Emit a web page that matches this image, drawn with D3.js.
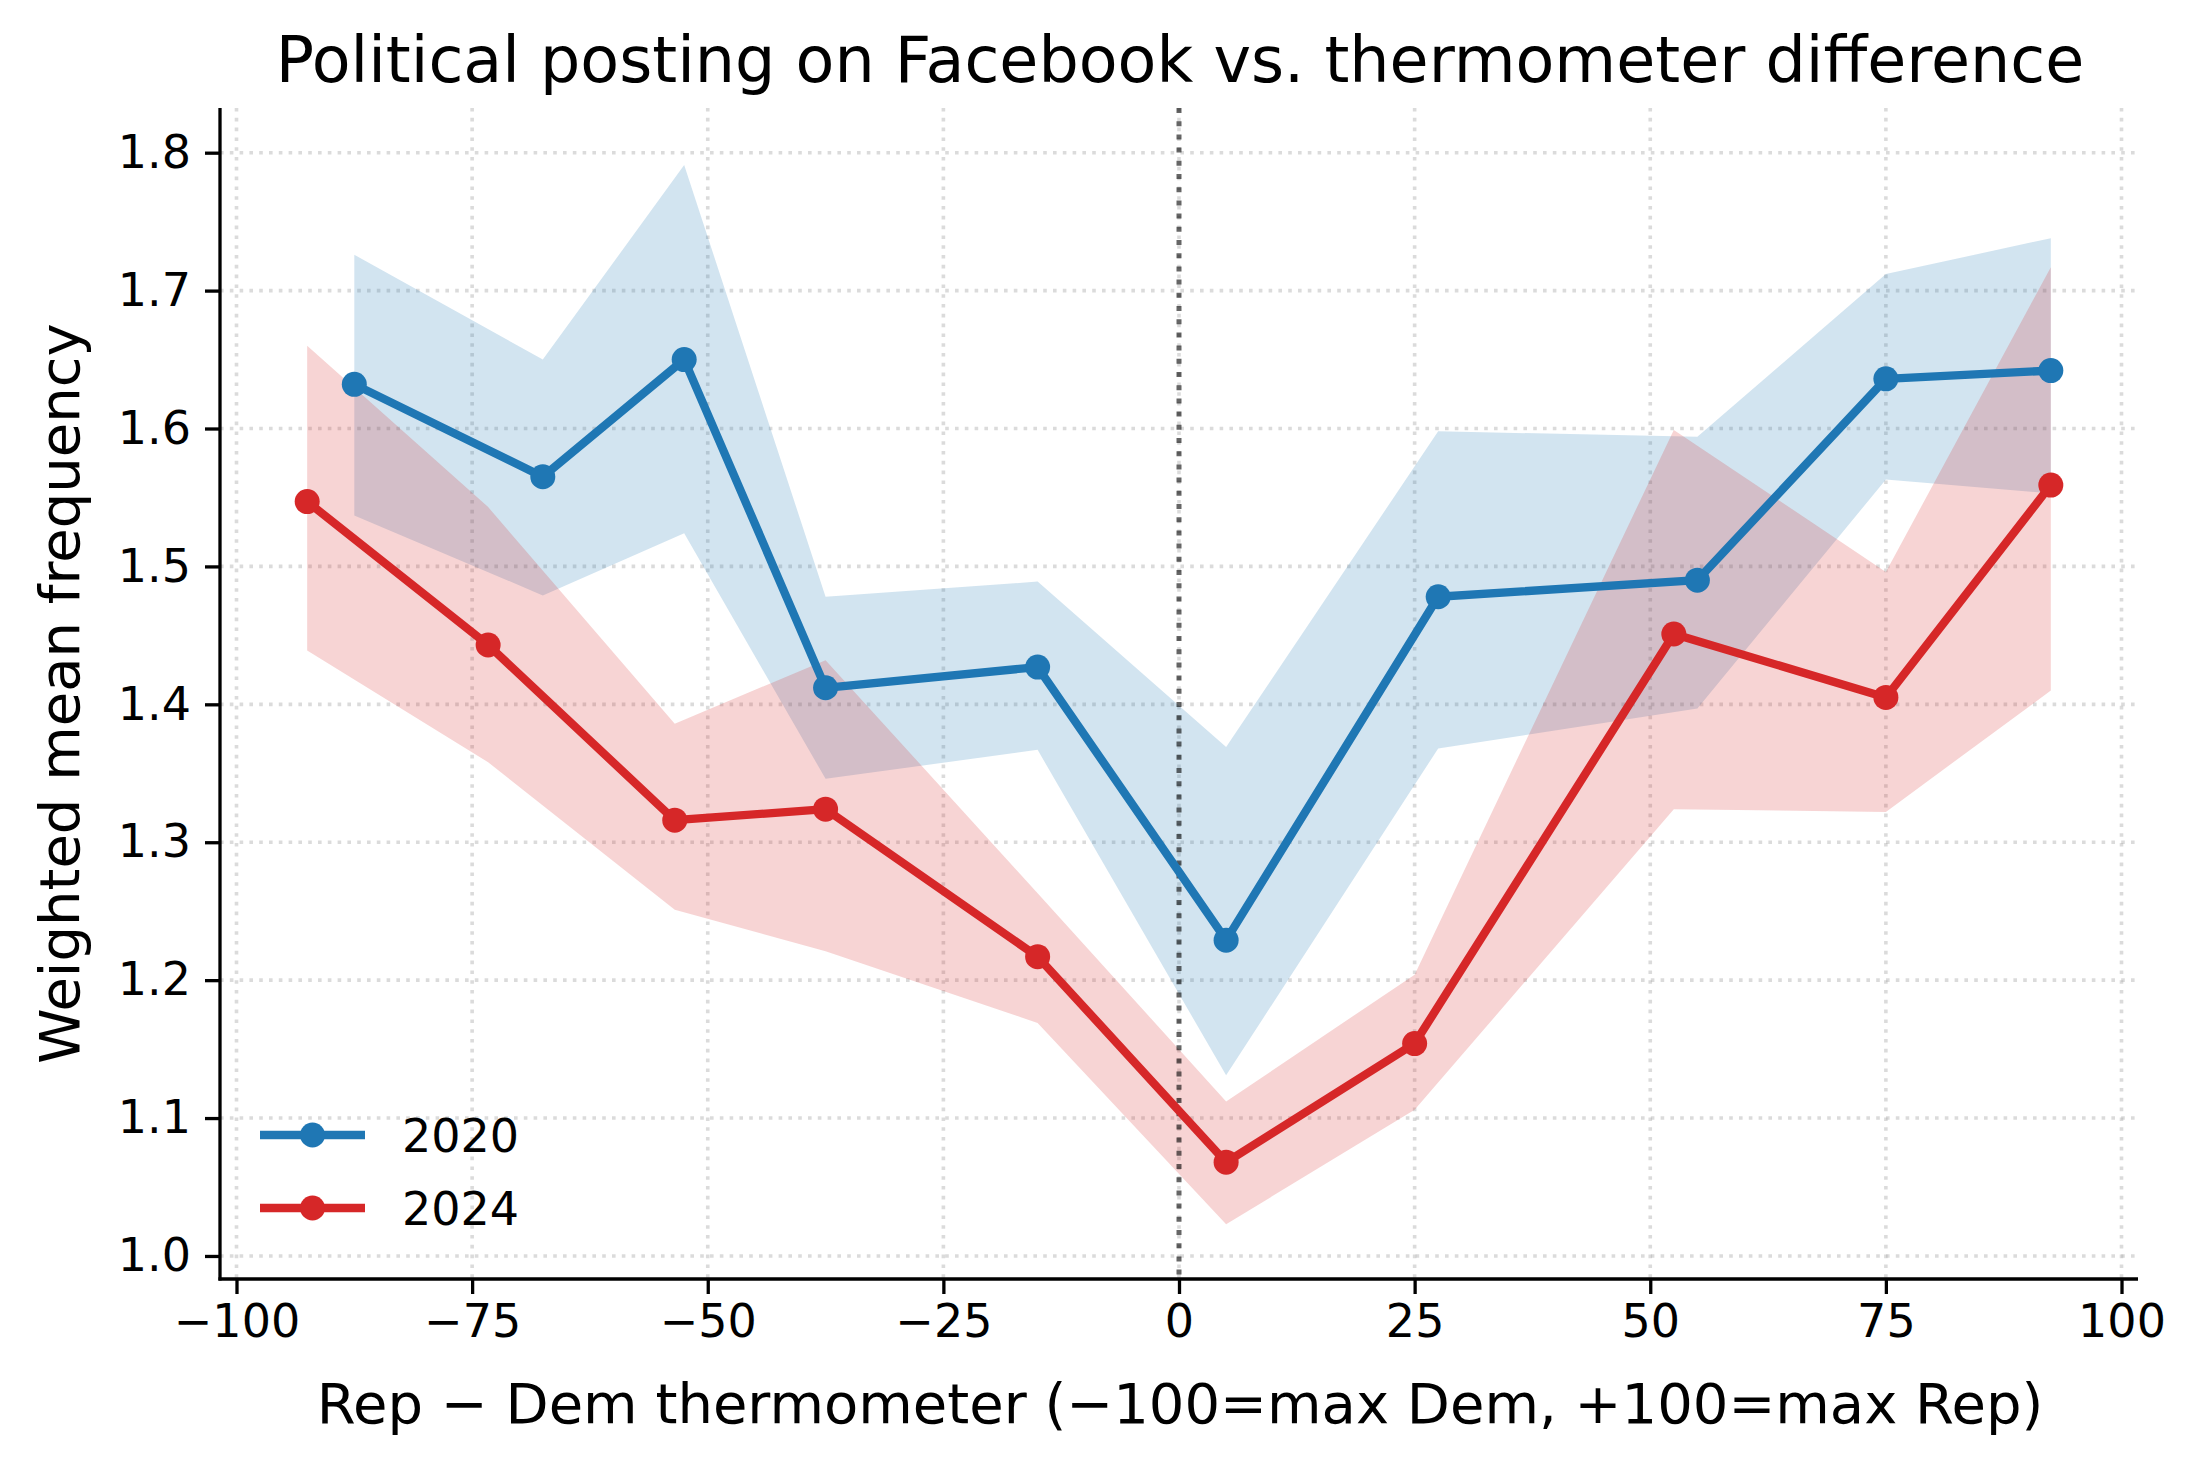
<!DOCTYPE html>
<html>
<head>
<meta charset="utf-8">
<script src="https://cdn.jsdelivr.net/npm/d3@7"></script>
<style>
  body { margin: 0; background: #fff; }
  text { font-family: "DejaVu Sans", sans-serif; fill: #000; }
</style>
</head>
<body>
<div id="chart"></div>
<script>
// 2020 series (x = bin centre, mean, CI low, CI high)
const x2020 = [-87.5, -67.5, -52.5, -37.5, -15, 5, 27.5, 55, 75, 92.5];
const y2020 = [1.632, 1.565, 1.650, 1.412, 1.427, 1.229, 1.478, 1.490, 1.636, 1.642];
const lo2020 = [1.537, 1.479, 1.524, 1.346, 1.367, 1.131, 1.368, 1.397, 1.563, 1.553];
const hi2020 = [1.726, 1.650, 1.791, 1.478, 1.489, 1.369, 1.598, 1.594, 1.712, 1.738];

// 2024 series
const x2024 = [-92.5, -73.3, -53.5, -37.5, -15, 5, 25, 52.5, 75, 92.5];
const y2024 = [1.547, 1.443, 1.316, 1.324, 1.217, 1.068, 1.154, 1.451, 1.405, 1.559];
const lo2024 = [1.439, 1.358, 1.251, 1.221, 1.169, 1.023, 1.106, 1.324, 1.322, 1.410];
const hi2024 = [1.660, 1.543, 1.386, 1.432, 1.263, 1.112, 1.204, 1.599, 1.496, 1.717];

const xTicks = [-100, -75, -50, -25, 0, 25, 50, 75, 100];
const yTicks = [1.0, 1.1, 1.2, 1.3, 1.4, 1.5, 1.6, 1.7, 1.8];

const series = [
    { name: "2020", color: "#1f77b4", xs: x2020, ys: y2020, lo: lo2020, hi: hi2020 },
    { name: "2024", color: "#d62728", xs: x2024, ys: y2024, lo: lo2024, hi: hi2024 }
];

const W = 2203, H = 1469;
const mLeft = 220, mRight = 2138, mTop = 108, mBottom = 1279;

const svg = d3.select("#chart").append("svg")
    .attr("width", W).attr("height", H)
    .style("background", "#fff");

const x = d3.scaleLinear().domain([-101.75, 101.75]).range([mLeft, mRight]);
const y = d3.scaleLinear().domain([0.9833, 1.8324]).range([mBottom, mTop]);

// grid
const grid = svg.append("g");
grid.selectAll(".gx").data(xTicks).join("line")
    .attr("x1", d => x(d)).attr("x2", d => x(d))
    .attr("y1", mTop).attr("y2", mBottom)
    .attr("stroke", "#b0b0b0").attr("stroke-opacity", 0.45)
    .attr("stroke-width", 3.6).attr("stroke-dasharray", "3.6,6.2");
grid.selectAll(".gy").data(yTicks).join("line")
    .attr("x1", mLeft).attr("x2", mRight)
    .attr("y1", d => y(d)).attr("y2", d => y(d))
    .attr("stroke", "#b0b0b0").attr("stroke-opacity", 0.45)
    .attr("stroke-width", 3.6).attr("stroke-dasharray", "3.6,6.2");

// confidence bands
const area = d3.area()
    .x(d => x(d.x)).y0(d => y(d.lo)).y1(d => y(d.hi));
series.forEach(s => {
    const pts = s.xs.map((v, i) => ({ x: v, lo: s.lo[i], hi: s.hi[i] }));
    svg.append("path").datum(pts)
        .attr("d", area)
        .attr("fill", s.color).attr("fill-opacity", 0.2);
});

// zero line
svg.append("line")
    .attr("x1", x(0)).attr("x2", x(0))
    .attr("y1", mTop).attr("y2", mBottom)
    .attr("stroke", "#000").attr("stroke-opacity", 0.6)
    .attr("stroke-width", 5).attr("stroke-dasharray", "5,8.2");

// lines + markers
const line = d3.line().x(d => x(d.x)).y(d => y(d.y));
series.forEach(s => {
    const pts = s.xs.map((v, i) => ({ x: v, y: s.ys[i] }));
    svg.append("path").datum(pts)
        .attr("d", line)
        .attr("fill", "none").attr("stroke", s.color)
        .attr("stroke-width", 8.3).attr("stroke-linejoin", "round");
    svg.append("g").selectAll("circle").data(pts).join("circle")
        .attr("cx", d => x(d.x)).attr("cy", d => y(d.y))
        .attr("r", 12.5).attr("fill", s.color);
});

// axes
const xAxis = svg.append("g").attr("transform", `translate(0,${mBottom})`)
    .call(d3.axisBottom(x).tickValues(xTicks).tickSize(15).tickPadding(10)
        .tickFormat(d => d < 0 ? "\u2212" + Math.abs(d) : d));
const yAxis = svg.append("g").attr("transform", `translate(${mLeft},0)`)
    .call(d3.axisLeft(y).tickValues(yTicks).tickSize(15).tickPadding(14)
        .tickFormat(d3.format(".1f")));
[xAxis, yAxis].forEach(a => {
    a.select(".domain").remove();
    a.selectAll("line").attr("stroke", "#000").attr("stroke-width", 3.3);
    a.selectAll("text").style("font-family", "DejaVu Sans").style("font-size", "46px").attr("fill", "#000");
});
xAxis.selectAll("text").attr("dy", "0.71em");
svg.append("line").attr("x1", mLeft).attr("x2", mLeft).attr("y1", mTop).attr("y2", mBottom + 1.6)
    .attr("stroke", "#000").attr("stroke-width", 3.3);
svg.append("line").attr("x1", mLeft - 1.6).attr("x2", mRight).attr("y1", mBottom).attr("y2", mBottom)
    .attr("stroke", "#000").attr("stroke-width", 3.3);

// labels
svg.append("text").attr("x", 1180).attr("y", 82)
    .attr("text-anchor", "middle").style("font-size", "63.5px")
    .text("Political posting on Facebook vs. thermometer difference");
svg.append("text").attr("x", 1180).attr("y", 1423)
    .attr("text-anchor", "middle").style("font-size", "56px")
    .text("Rep \u2212 Dem thermometer (\u2212100=max Dem, +100=max Rep)");
svg.append("text").attr("transform", `translate(79,${(mTop + mBottom) / 2}) rotate(-90)`)
    .attr("text-anchor", "middle").style("font-size", "56px")
    .text("Weighted mean frequency");

// legend
const legend = svg.append("g");
series.forEach((s, i) => {
    const ly = 1135 + i * 73;
    legend.append("line").attr("x1", 260).attr("x2", 365).attr("y1", ly).attr("y2", ly)
        .attr("stroke", s.color).attr("stroke-width", 8.3);
    legend.append("circle").attr("cx", 312.5).attr("cy", ly).attr("r", 12.5).attr("fill", s.color);
    legend.append("text").attr("x", 402).attr("y", ly + 17)
        .style("font-size", "46px").text(s.name);
});
</script>
</body>
</html>
